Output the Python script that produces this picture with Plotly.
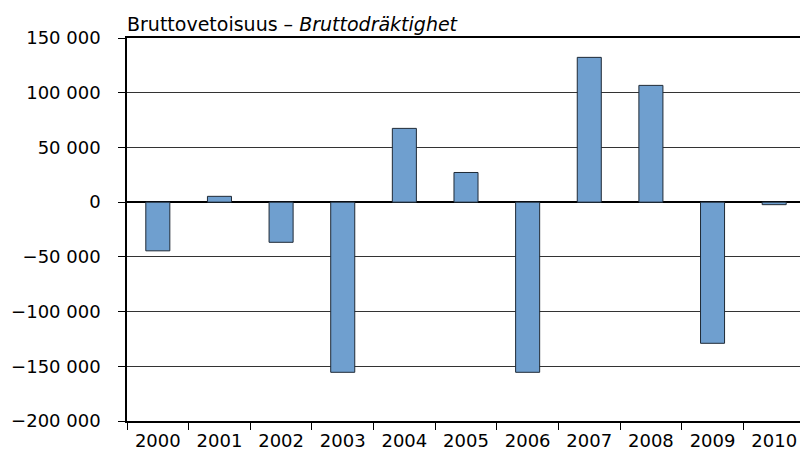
import plotly.graph_objects as go

years = ["2000", "2001", "2002", "2003", "2004", "2005", "2006", "2007", "2008", "2009", "2010"]
values = [-44500, 5300, -36700, -155500, 67400, 27100, -155500, 132300, 106700, -129000, -2300]
y_ticks = [150000, 100000, 50000, 0, -50000, -100000, -150000, -200000]
y_tick_labels = ["150 000", "100 000", "50 000", "0", "\u221250 000", "\u2212100 000", "\u2212150 000", "\u2212200 000"]
title_text = "Bruttovetoisuus \u2013 <i>Bruttodräktighet</i>"

fig = go.Figure()
fig.add_trace(go.Bar(
    x=years, y=values,
    width=0.39,
    marker=dict(color="#6f9fcf", line=dict(color="#1f2a36", width=1)),
))

font = "DejaVu Sans, sans-serif"
fig.update_layout(
    width=800, height=450,
    margin=dict(l=119, r=3, t=30, b=37, autoexpand=False),
    paper_bgcolor="white", plot_bgcolor="white",
    showlegend=False,
    font=dict(family=font, size=18, color="#000"),
    annotations=[dict(text=title_text, x=0, y=1, xref="paper", yref="paper",
                      xanchor="left", yanchor="bottom", showarrow=False,
                      yshift=1, xshift=-2, font=dict(size=19, family=font, color="#000"))],
)
fig.update_yaxes(
    range=[-200000, 150000],
    tickvals=y_ticks, ticktext=y_tick_labels,
    showgrid=True, gridcolor="#333", gridwidth=1,
    showline=True, linecolor="#000", linewidth=1.5, mirror=True,
    ticks="outside", ticklen=7, tickcolor="#000",
    ticklabelstandoff=14,
    zeroline=True, zerolinecolor="#000", zerolinewidth=1.5,
    tickfont=dict(size=18),
)
fig.update_xaxes(
    type="category",
    showline=True, linecolor="#000", linewidth=1.5, mirror=True,
    ticks="outside", tickson="boundaries", ticklen=7, tickcolor="#000",
    ticklabelstandoff=3,
    showgrid=False,
    tickfont=dict(size=18),
)
fig.write_html("out.html")
